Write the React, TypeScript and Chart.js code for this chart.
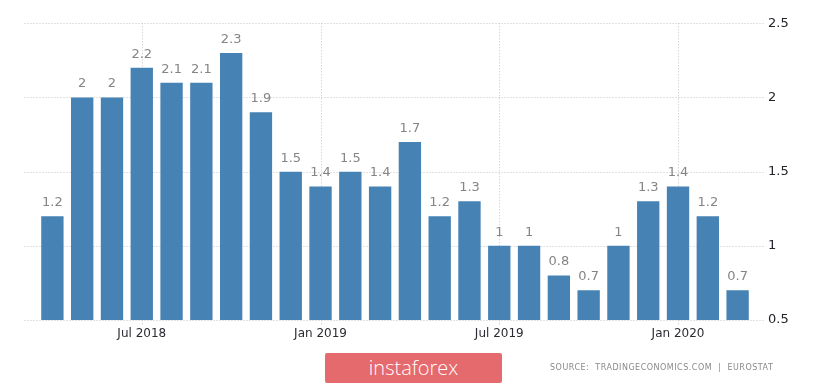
import React, { useEffect, useRef } from "react";
import { Chart, registerables } from "chart.js";

Chart.register(...registerables);

const categories = [
  "Apr 2018", "May 2018", "Jun 2018", "Jul 2018", "Aug 2018", "Sep 2018",
  "Oct 2018", "Nov 2018", "Dec 2018", "Jan 2019", "Feb 2019", "Mar 2019",
  "Apr 2019", "May 2019", "Jun 2019", "Jul 2019", "Aug 2019", "Sep 2019",
  "Oct 2019", "Nov 2019", "Dec 2019", "Jan 2020", "Feb 2020", "Mar 2020",
];
const values = [
  1.2, 2, 2, 2.2, 2.1, 2.1, 2.3, 1.9, 1.5, 1.4, 1.5, 1.4,
  1.7, 1.2, 1.3, 1, 1, 0.8, 0.7, 1, 1.3, 1.4, 1.2, 0.7,
];
const yTicks = [0.5, 1, 1.5, 2, 2.5];
const sourceText = "SOURCE:  TRADINGECONOMICS.COM  |  EUROSTAT";
const logoText = "instaforex";

const isLabeled = (label: string) => label.startsWith("Jul") || label.startsWith("Jan");

const gridPlugin = {
  id: "customGrid",
  beforeDatasetsDraw(chart: any) {
    const { ctx, chartArea, scales } = chart;
    const x = scales.x;
    const y = scales.y;
    ctx.save();
    ctx.strokeStyle = "#c4c4c4";
    ctx.lineWidth = 1;
    ctx.setLineDash([1, 2]);
    yTicks.forEach((v) => {
      const py = Math.round(y.getPixelForValue(v)) + 0.5;
      ctx.beginPath();
      ctx.moveTo(chartArea.left - 13, py);
      ctx.lineTo(chartArea.right + 11, py);
      ctx.stroke();
    });
    categories.forEach((c, i) => {
      if (!isLabeled(c)) return;
      const px = Math.round(x.getPixelForValue(i)) + 0.5;
      ctx.beginPath();
      ctx.moveTo(px, chartArea.top);
      ctx.lineTo(px, chartArea.bottom + 5);
      ctx.stroke();
    });
    ctx.restore();
  },
};

const labelPlugin = {
  id: "barLabels",
  afterDatasetsDraw(chart: any) {
    const { ctx } = chart;
    const meta = chart.getDatasetMeta(0);
    ctx.save();
    ctx.fillStyle = "#858585";
    ctx.font = "13px 'DejaVu Sans'";
    ctx.textAlign = "center";
    ctx.textBaseline = "bottom";
    meta.data.forEach((bar: any, i: number) => {
      ctx.fillText(String(values[i]), bar.x, bar.y - 7);
    });
    ctx.restore();
  },
};

export default function App() {
  const canvasRef = useRef<HTMLCanvasElement | null>(null);

  useEffect(() => {
    if (!canvasRef.current) return;
    const chart = new Chart(canvasRef.current, {
      type: "bar",
      data: {
        labels: categories,
        datasets: [
          {
            data: values,
            backgroundColor: "#4682b4",
            borderWidth: 0,
            categoryPercentage: 1,
            barPercentage: 0.75,
          },
        ],
      },
      options: {
        animation: false,
        responsive: true,
        maintainAspectRatio: false,
        layout: { padding: { left: 37.5, top: 22, right: 0, bottom: 0 } },
        plugins: {
          legend: { display: false },
          tooltip: { enabled: false },
          title: { display: false },
        },
        scales: {
          x: {
            grid: { display: false, drawTicks: false },
            border: { display: false },
            ticks: {
              autoSkip: false,
              maxRotation: 0,
              padding: 7,
              color: "#2b2b33",
              font: { family: "'DejaVu Sans'", size: 12 },
              callback: (_v: any, i: number) => (isLabeled(categories[i]) ? categories[i] : ""),
            },
            afterFit: (scale: any) => {
              scale.height = 64;
            },
          },
          y: {
            position: "right",
            min: 0.5,
            max: 2.5,
            grid: { display: false, drawTicks: false },
            border: { display: false },
            ticks: {
              stepSize: 0.5,
              padding: 15.5,
              color: "#23232b",
              font: { family: "'DejaVu Sans'", size: 13 },
              callback: (v: any) => String(v),
            },
            afterFit: (scale: any) => {
              scale.width = 72.5;
            },
          },
        },
      },
      plugins: [gridPlugin, labelPlugin],
    });
    return () => chart.destroy();
  }, []);

  return (
    <div
      style={{
        position: "fixed",
        left: 0,
        top: 0,
        width: 825,
        height: 384,
        background: "#ffffff",
        overflow: "hidden",
      }}
    >
      <canvas ref={canvasRef} style={{ width: "825px", height: "384px" }} />
      <div
        style={{
          position: "absolute",
          left: 325,
          top: 353,
          width: 177,
          height: 30,
          background: "#e46a6d",
          borderRadius: 2,
          color: "#ffffff",
          fontFamily: "'Open Sans', sans-serif",
          fontWeight: 300,
          fontSize: 20,
          lineHeight: "29px",
          textAlign: "center",
        }}
      >
        {logoText}
      </div>
      <div
        style={{
          position: "absolute",
          left: 550,
          top: 362,
          width: 240,
          fontFamily: "'DejaVu Sans', sans-serif",
          fontSize: 8,
          lineHeight: "12px",
          color: "#8a8a8a",
          letterSpacing: 0.5,
          whiteSpace: "pre",
        }}
      >
        {sourceText}
      </div>
    </div>
  );
}
